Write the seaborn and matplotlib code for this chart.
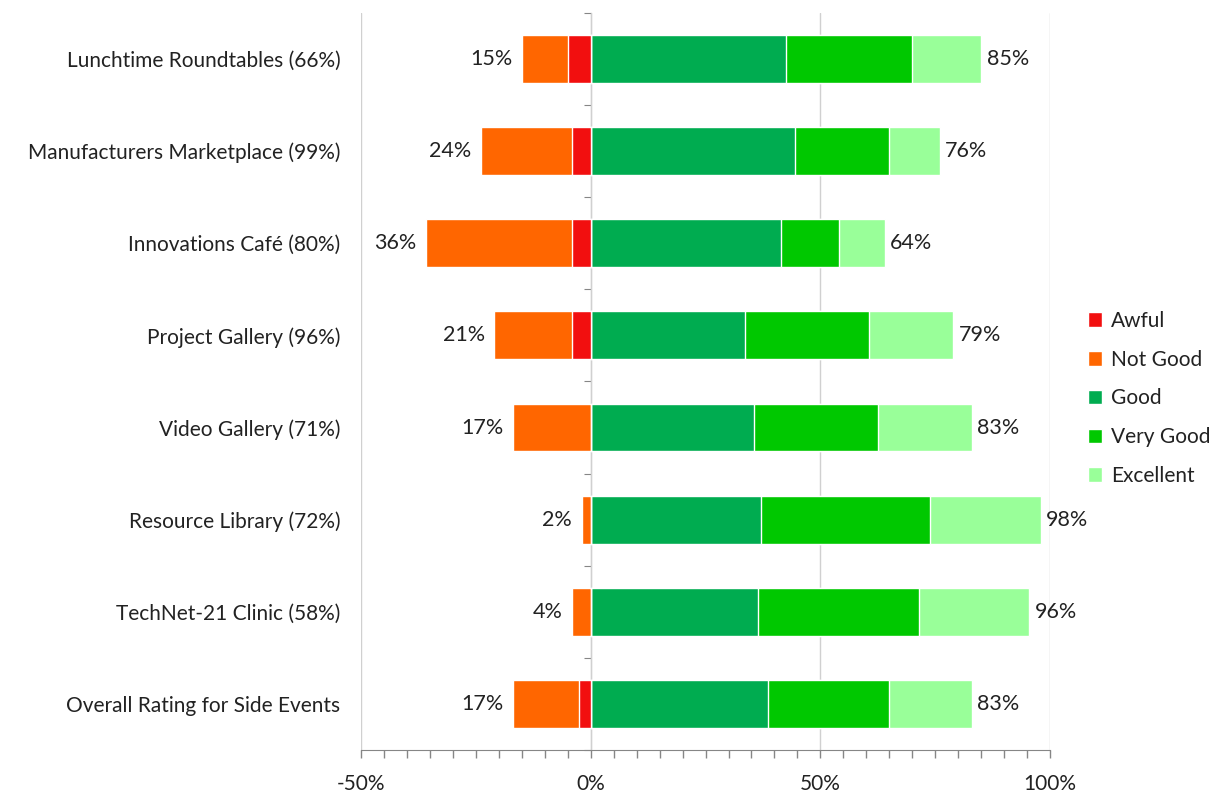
import pandas as pd
import matplotlib.pyplot as plt
import seaborn as sns
from matplotlib.patches import Patch
from matplotlib.ticker import MultipleLocator, FuncFormatter

# Dữ liệu (phần trăm)
events = ['Lunchtime Roundtables (66%)', 'Manufacturers Marketplace (99%)',
          'Innovations Café (80%)', 'Project Gallery (96%)', 'Video Gallery (71%)',
          'Resource Library (72%)', 'TechNet-21 Clinic (58%)', 'Overall Rating for Side Events']
awful = [5, 4, 4, 4, 0, 0, 0, 2.5]
not_good = [10, 20, 32, 17, 17, 2, 4, 14.5]
good = [42.5, 44.5, 41.5, 33.5, 35.5, 37, 36.5, 38.5]
very_good = [27.5, 20.5, 12.5, 27, 27, 37, 35, 26.5]
excellent = [15, 11, 10, 18.5, 20.5, 24, 24, 18]
neg_labels = ['15%', '24%', '36%', '21%', '17%', '2%', '4%', '17%']
pos_labels = ['85%', '76%', '64%', '79%', '83%', '98%', '96%', '83%']

colors = {'Awful': '#F20F0F', 'Not Good': '#FF6600', 'Good': '#00AC50',
          'Very Good': '#00C800', 'Excellent': '#99FF99'}

df = pd.DataFrame({'event': events, 'Awful': awful, 'Not Good': not_good,
                   'Good': good, 'Very Good': very_good, 'Excellent': excellent})
df['neg_all'] = -(df['Awful'] + df['Not Good'])
df['neg_awful'] = -df['Awful']
df['pos_all'] = df['Good'] + df['Very Good'] + df['Excellent']
df['pos_gv'] = df['Good'] + df['Very Good']

sns.set_style('white')
plt.rcParams['font.family'] = ['Lato', 'DejaVu Sans']

fig = plt.figure(figsize=(12.25, 7.93), dpi=100)
ax = fig.add_axes([0.295, 0.054, 0.562, 0.930])

w = 0.52
# vẽ kiểu chồng: thanh dài trước, thanh ngắn đè lên
sns.barplot(data=df, y='event', x='pos_all', color=colors['Excellent'], width=w, ax=ax, saturation=1)
sns.barplot(data=df, y='event', x='pos_gv', color=colors['Very Good'], width=w, ax=ax, saturation=1)
sns.barplot(data=df, y='event', x='Good', color=colors['Good'], width=w, ax=ax, saturation=1)
sns.barplot(data=df, y='event', x='neg_all', color=colors['Not Good'], width=w, ax=ax, saturation=1)
sns.barplot(data=df, y='event', x='neg_awful', color=colors['Awful'], width=w, ax=ax, saturation=1)

ax.bar_label(ax.containers[0], labels=pos_labels, padding=4, fontsize=15.5, color='#222222')
ax.bar_label(ax.containers[3], labels=neg_labels, padding=7, fontsize=15.5, color='#222222')

ax.set_xlim(-50, 100)
ax.set_ylim(7.5, -0.5)
ax.xaxis.set_major_locator(MultipleLocator(50))
ax.xaxis.set_minor_locator(MultipleLocator(5))
ax.xaxis.set_major_formatter(FuncFormatter(lambda v, p: f'{v:.0f}%'))
ax.tick_params(axis='x', which='both', direction='out', length=6, width=1, color='#868686',
               labelsize=15, pad=11, labelcolor='#222222', bottom=True)
ax.tick_params(axis='y', length=0, pad=15, labelsize=15, labelcolor='#222222')
ax.set_xlabel('')
ax.set_ylabel('')

ax.grid(axis='x', color='#D0D0D0', linewidth=1)
ax.set_axisbelow(True)
for s in ['top', 'right', 'left']:
    ax.spines[s].set_visible(False)
ax.spines['bottom'].set_color('#868686')

# trục 0% với vạch chia danh mục
sec = ax.secondary_yaxis(1 / 3)
sec.set_yticks([i + 0.5 for i in range(-1, len(events))])
sec.set_yticklabels([])
sec.tick_params(axis='y', direction='out', length=5, color='#868686')
sec.spines['left'].set_color('#868686')

handles = [Patch(facecolor=colors[k], label=k) for k in colors]
ax.legend(handles=handles, loc='center left', bbox_to_anchor=(1.028, 0.477), frameon=False,
          fontsize=15, handlelength=0.7, handleheight=0.7, handletextpad=0.4, labelspacing=0.9,
          labelcolor='#222222')

plt.savefig('out.png', dpi=100)
plt.close()
